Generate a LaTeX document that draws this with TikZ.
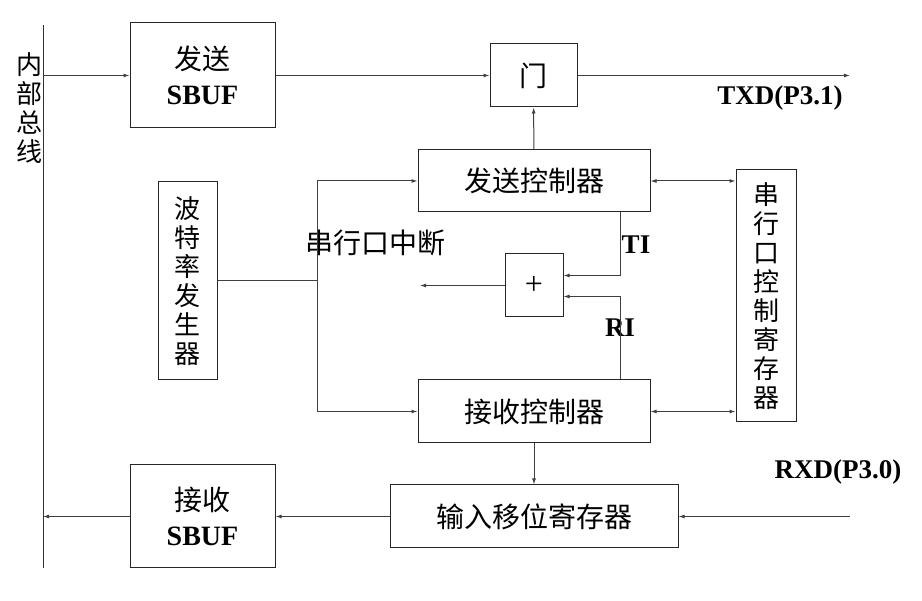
\documentclass[tikz,border=0pt]{standalone}
\usepackage{fontspec}
\setmainfont{Liberation Serif}
\newfontfamily\cjk{Noto Sans CJK SC}
\usetikzlibrary{arrows.meta}
\newcommand{\en}[1]{{\rmfamily\bfseries #1}}
\tikzset{
  blk/.style={draw=black!85, inner sep=0pt, align=center, font=\fontsize{28}{35}\selectfont\cjk},
  lbl/.style={inner sep=0pt, font=\fontsize{27}{30}\selectfont\bfseries},
  vtxt/.style={inner sep=0pt, align=center, font=\fontsize{26}{29}\selectfont\cjk},
  wire/.style={draw=black!75}
}

\begin{document}
\begin{tikzpicture}[x=1pt,y=-1pt,>={Latex[length=6pt,width=4pt]},line width=1pt]
\useasboundingbox (0,0) rectangle (922,601);
% bus
\coordinate (bt) at (43,25);
\coordinate (bb) at (43,568);
\draw[black!80] (bt)--(bb);
\node[vtxt] (bus) at (29.5,108.5) {内\\部\\总\\线};
% blocks
\node[blk,minimum width=145pt,minimum height=105pt] (tbuf) at (202.5,75.5) {发送\\\en{SBUF}};
\node[blk,minimum width=87pt,minimum height=63pt] (gate) at (533.5,75.5) {门};
\node[blk,minimum width=232pt,minimum height=62pt] (tctl) at (534,181) {发送控制器};
\node[blk,minimum width=232pt,minimum height=63pt] (rctl) at (534,411.5) {接收控制器};
\node[blk,minimum width=59pt,minimum height=198pt,font=\fontsize{26}{29}\selectfont\cjk] (baud) at (187.5,281) {波\\特\\率\\发\\生\\器};
\node[blk,minimum width=60pt,minimum height=252pt,font=\fontsize{26}{29}\selectfont\cjk] (scon) at (766,296) {串\\行\\口\\控\\制\\寄\\存\\器};
\node[blk,minimum width=58pt,minimum height=63pt,font=\fontsize{32}{34}\selectfont] (plus) at (534,285.5) {+};
\node[blk,minimum width=288pt,minimum height=63pt] (shreg) at (534,516.5) {输入移位寄存器};
\node[blk,minimum width=145pt,minimum height=103pt] (rbuf) at (202.5,516.5) {接收\\\en{SBUF}};
% ends of the free wires
\coordinate (b1) at (43,75.5);
\coordinate (b2) at (43,516.5);
\coordinate (txd) at (850,75.5);
\coordinate (rxd) at (850,516.5);
\coordinate (j) at (317,281);
\coordinate (irq) at (420,285.5);
% labels
\node[lbl] (txdl) at (780,98) {TXD(P3.1)};
\node[lbl] (rxdl) at (838,472) {RXD(P3.0)};
\node[lbl] (til) at (636,245) {TI};
\node[lbl] (ril) at (620,328) {RI};
\node[inner sep=0pt,font=\fontsize{28}{30}\selectfont\cjk] (intl) at (375,243) {串行口中断};
% wires
\draw[wire,->] (b1)--(tbuf);
\draw[wire,->] (tbuf)--(gate);
\draw[wire,->] (gate)--(txd);
\draw[wire,->] (tctl)--(gate);
\draw[wire,<->] (tctl)--(tctl -| scon.west);
\draw[wire,<->] (rctl)--(rctl -| scon.west);
\draw[wire] (baud)--(j);
\draw[wire,->] (j) |- (tctl);
\draw[wire,->] (j) |- (rctl);
\draw[wire,->] ([xshift=86pt]tctl.south) |- ([yshift=10pt]plus.east);
\draw[wire,->] ([xshift=86pt]rctl.north) |- ([yshift=-11pt]plus.east);
\draw[wire,->] (plus)--(irq);
\draw[wire,->] (rctl)--(shreg);
\draw[wire,->] (rxd)--(shreg);
\draw[wire,->] (shreg)--(rbuf);
\draw[wire,->] (rbuf)--(b2);
\end{tikzpicture}
\end{document}
